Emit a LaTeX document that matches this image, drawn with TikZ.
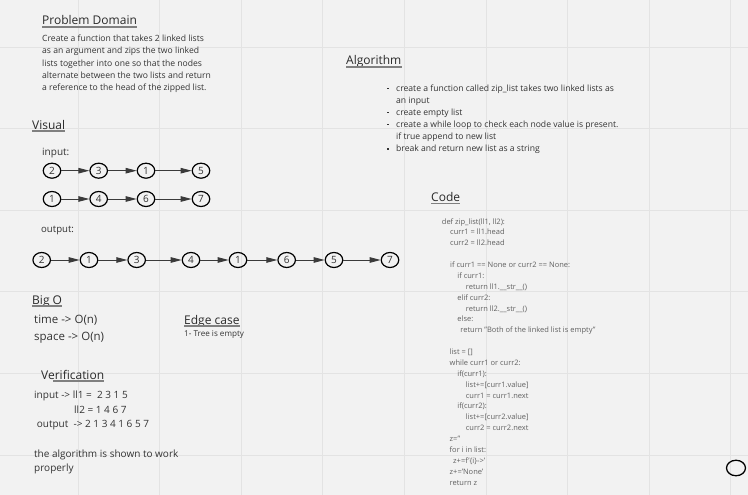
\documentclass[tikz,border=0pt]{standalone}
\usepackage{fontspec}
\setmainfont{Open Sans}
\usetikzlibrary{arrows.meta,shapes.geometric,calc}
\definecolor{bg}{HTML}{F2F2F2}
\definecolor{gridc}{HTML}{E3E3E3}
\definecolor{txt}{HTML}{333333}
\definecolor{headc}{HTML}{2A2A2A}
\definecolor{codec}{HTML}{606060}
\definecolor{ulc}{HTML}{808080}
\definecolor{linkc}{HTML}{3A3A3A}
\begin{document}
\begin{tikzpicture}[x=1pt,y=-1pt,
  tx/.style={anchor=base west, inner sep=0pt, text=txt},
  hd/.style={tx, font=\fontsize{12}{14}\selectfont, text=headc},
  body/.style={tx, font=\fontsize{8.6}{10}\selectfont},
  big/.style={tx, font=\fontsize{11.5}{13}\selectfont},
  ver/.style={tx, font=\fontsize{10}{12}\selectfont},
  codeline/.style={tx, font=\fontsize{7.5}{9}\selectfont, text=codec},
  lnode/.style={ellipse, draw=black, line width=1.2pt, minimum width=17.5pt, minimum height=15pt, inner sep=0pt, font=\fontsize{10}{10}\selectfont, text=txt},
  link/.style={draw=linkc, line width=0.9pt, -{Triangle[length=11pt,width=5.5pt]}},
  ul/.style={draw=ulc, line width=1.6pt}
]
\fill[bg] (0,0) rectangle (748,495);
\useasboundingbox (0,0) rectangle (748,495);
% grid
\foreach \i in {0,...,8} {\draw[gridc, line width=0.9pt] ({78+81.6*\i},0) -- ({78+81.6*\i},495);}
\foreach \i in {0,...,5} {\draw[gridc, line width=0.9pt] (0,{47+81.6*\i}) -- (748,{47+81.6*\i});}

% Problem domain
\node[hd] (pd) at (42,25) {Problem Domain};
\draw[ul] ($(pd.base west)+(0,1.8)$) -- ($(pd.base east)+(0,1.8)$);
\node[body] (pd1) at (42,41.7) {Create a function that takes 2 linked lists};
\node[body] (pd2) at (42,54) {as an argument and zips the two linked};
\node[body] (pd3) at (42,66.3) {lists together into one so that the nodes};
\node[body] (pd4) at (42,78.6) {alternate between the two lists and return};
\node[body] (pd5) at (42,90.9) {a reference to the head of the zipped list.};

% Visual
\node[hd] (vis) at (32,129) {Visual};
\draw[ul] ($(vis.base west)+(0,1.8)$) -- ($(vis.base east)+(0,1.8)$);
\node[ver] (inl) at (42,155) {input:};
\node[lnode] (a1) at (52,170.7) {2};
\node[lnode] (a2) at (98.7,170.7) {3};
\node[lnode] (a3) at (146,170.7) {1};
\node[lnode] (a4) at (201,170.7) {5};
\node[lnode] (b1) at (52,199) {1};
\node[lnode] (b2) at (98.7,199) {4};
\node[lnode] (b3) at (146,199) {6};
\node[lnode] (b4) at (201,199) {7};
\draw[link] (a1) -- (a2);
\draw[link] (a2) -- (a3);
\draw[link] (a3) -- (a4);
\draw[link] (b1) -- (b2);
\draw[link] (b2) -- (b3);
\draw[link] (b3) -- (b4);

\node[ver, font=\fontsize{9.6}{11}\selectfont] (outl) at (41,232.3) {output:};
\node[lnode] (c1) at (41.7,260) {2};
\node[lnode] (c2) at (89,260) {1};
\node[lnode] (c3) at (136.7,260) {3};
\node[lnode] (c4) at (191,260) {4};
\node[lnode] (c5) at (238,260) {1};
\node[lnode] (c6) at (286.7,260) {6};
\node[lnode] (c7) at (334,260) {5};
\node[lnode] (c8) at (390,260) {7};
\draw[link] (c1) -- (c2);
\draw[link] (c2) -- (c3);
\draw[link] (c3) -- (c4);
\draw[link] (c4) -- (c5);
\draw[link] (c5) -- (c6);
\draw[link] (c6) -- (c7);
\draw[link] (c7) -- (c8);

% Algorithm
\node[hd] (alg) at (346,65) {Algorithm};
\draw[ul] ($(alg.base west)+(0,1.8)$) -- ($(alg.base east)+(0,1.8)$);
\node[body] (al1) at (396,91.5) {create a function called zip\_list takes two linked lists as};
\node[body] (al2) at (396,103.5) {an input};
\node[body] (al3) at (396,115.5) {create empty list};
\node[body] (al4) at (396,127.5) {create a while loop to check each node value is present.};
\node[body] (al5) at (396,139.5) {if true append to new list};
\node[body] (al6) at (396,151.5) {break and return new list as a string};
\foreach \b in {al1,al3,al4,al6} {\fill[txt] ($(\b.base west)+(-8.8,-3.6)$) rectangle ++(1.6,1.6);}

% Code
\node[hd] (code) at (431,201.7) {Code};
\draw[ul] ($(code.base west)+(0,1.8)$) -- ($(code.base east)+(0,1.8)$);
\foreach \i/\dx/\t in {
  0/0/{def zip\_list(ll1, ll2):},
  1/8.3/{curr1 = ll1.head},
  2/8.3/{curr2 = ll2.head},
  4/8.3/{if curr1 == None or curr2 == None:},
  5/15.5/{if curr1:},
  6/24/{return ll1.\_\_str\_\_()},
  7/15.5/{elif curr2:},
  8/24/{return ll2.\_\_str\_\_()},
  9/15.5/{else:},
  10/18.5/{return "Both of the linked list is empty"},
  12/7.8/{list = []},
  13/7.8/{while curr1 or curr2:},
  14/15.5/{if(curr1):},
  15/24/{list+=[curr1.value]},
  16/24/{curr1 = curr1.next},
  17/15.5/{if(curr2):},
  18/24/{list+=[curr2.value]},
  19/24/{curr2 = curr2.next},
  20/7.8/{z=''},
  21/7.8/{for i in list:},
  22/11.3/{z+=f'\{i\}->'},
  23/7.8/{z+='None'},
  24/7.8/{return z}} {
  \node[codeline] (cl\i) at ({441.7+\dx},{224+10.88*\i}) {\t};
}

% Big O
\node[hd] (bigo) at (32,304) {Big O};
\draw[ul] ($(bigo.base west)+(0,1.8)$) -- ($(bigo.base east)+(0,1.8)$);
\node[big] (time) at (34,323.3) {time -> O(n)};
\node[big] (space) at (34,340) {space -> O(n)};

% Edge case
\node[hd] (edge) at (184,324) {Edge case};
\draw[ul] ($(edge.base west)+(0,1.8)$) -- ($(edge.base east)+(0,1.8)$);
\node[tx, font=\fontsize{8.1}{10}\selectfont] (edge1) at (184,336.7) {1- Tree is empty};

% Verification
\node[hd] (verif) at (41,379) {Verification};
\draw[ul] ($(verif.base west)+(12,1.8)$) -- ($(verif.base east)+(0,1.8)$);
\node[ver] (v1) at (34,398.3) {input -> ll1 =\ \ 2 3 1 5};
\node[ver] (v2) at (74,413.3) {ll2 = 1 4 6 7};
\node[ver] (v3) at (36.7,427.7) {output\ \ -> 2 1 3 4 1 6 5 7};
\node[ver] (v4) at (34,457.7) {the algorithm is shown to work};
\node[ver] (v5) at (34,471.7) {properly};

% bottom-right circle
\node[ellipse, draw=black, line width=1.3pt, minimum width=19pt, minimum height=15.5pt, inner sep=0pt] (endc) at (736,468) {};
\end{tikzpicture}
\end{document}
